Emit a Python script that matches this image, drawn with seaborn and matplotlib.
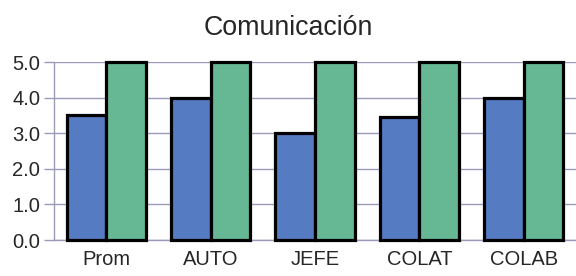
import numpy as np
import pandas as pd
import matplotlib
matplotlib.use("Agg")
import matplotlib.pyplot as plt
import seaborn as sns

categories = ["Prom", "AUTO", "JEFE", "COLAT", "COLAB"]
series_names = ["Actual", "Esperado"]
actual = [3.5, 4.0, 3.0, 3.45, 4.0]
esperado = [5.0, 5.0, 5.0, 5.0, 5.0]
y_ticks = [0.0, 1.0, 2.0, 3.0, 4.0, 5.0]

df = pd.DataFrame({
    "cat": categories * 2,
    "serie": [series_names[0]] * 5 + [series_names[1]] * 5,
    "valor": actual + esperado,
})

sns.set_style("white")
plt.rcParams["font.family"] = ["Liberation Sans", "DejaVu Sans"]

grid_col = "#9a9ab8"
fig = plt.figure(figsize=(5.76, 2.76), dpi=100)
ax = fig.add_axes([54 / 576, 1 - 240 / 276, 522 / 576, 178 / 276])

sns.barplot(data=df, x="cat", y="valor", hue="serie", order=categories,
            palette=["#557bc2", "#66b793"], width=0.76, gap=0,
            edgecolor="black", linewidth=2.3, saturation=1, legend=False,
            ax=ax, zorder=3)
for p in ax.patches:
    p.set_clip_on(False)

ax.set_xlim(-0.5, 4.5)
ax.set_ylim(0, 5)
ax.set_yticks(y_ticks)
ax.set_yticklabels([f"{v:.1f}" for v in y_ticks], fontsize=14.5)
ax.set_xticklabels(categories, fontsize=14.5)
ax.set_xticks([0.5, 1.5, 2.5, 3.5], minor=True)
ax.tick_params(axis="x", which="major", length=0, pad=7)
ax.tick_params(axis="x", which="minor", length=8, color=grid_col, width=1)
ax.tick_params(axis="y", length=7, color=grid_col, width=1, pad=3, left=True)
ax.yaxis.grid(True, color=grid_col, linewidth=1, zorder=0)
ax.set_axisbelow(True)
for s in ["top", "right"]:
    ax.spines[s].set_visible(False)
for s in ["left", "bottom"]:
    ax.spines[s].set_color(grid_col)
    ax.spines[s].set_linewidth(1)
ax.set_xlabel("")
ax.set_ylabel("")
fig.text(0.5, 1 - 28 / 276, "Comunicación", ha="center", va="center", fontsize=19.3)

fig.savefig("out.png", dpi=100)
